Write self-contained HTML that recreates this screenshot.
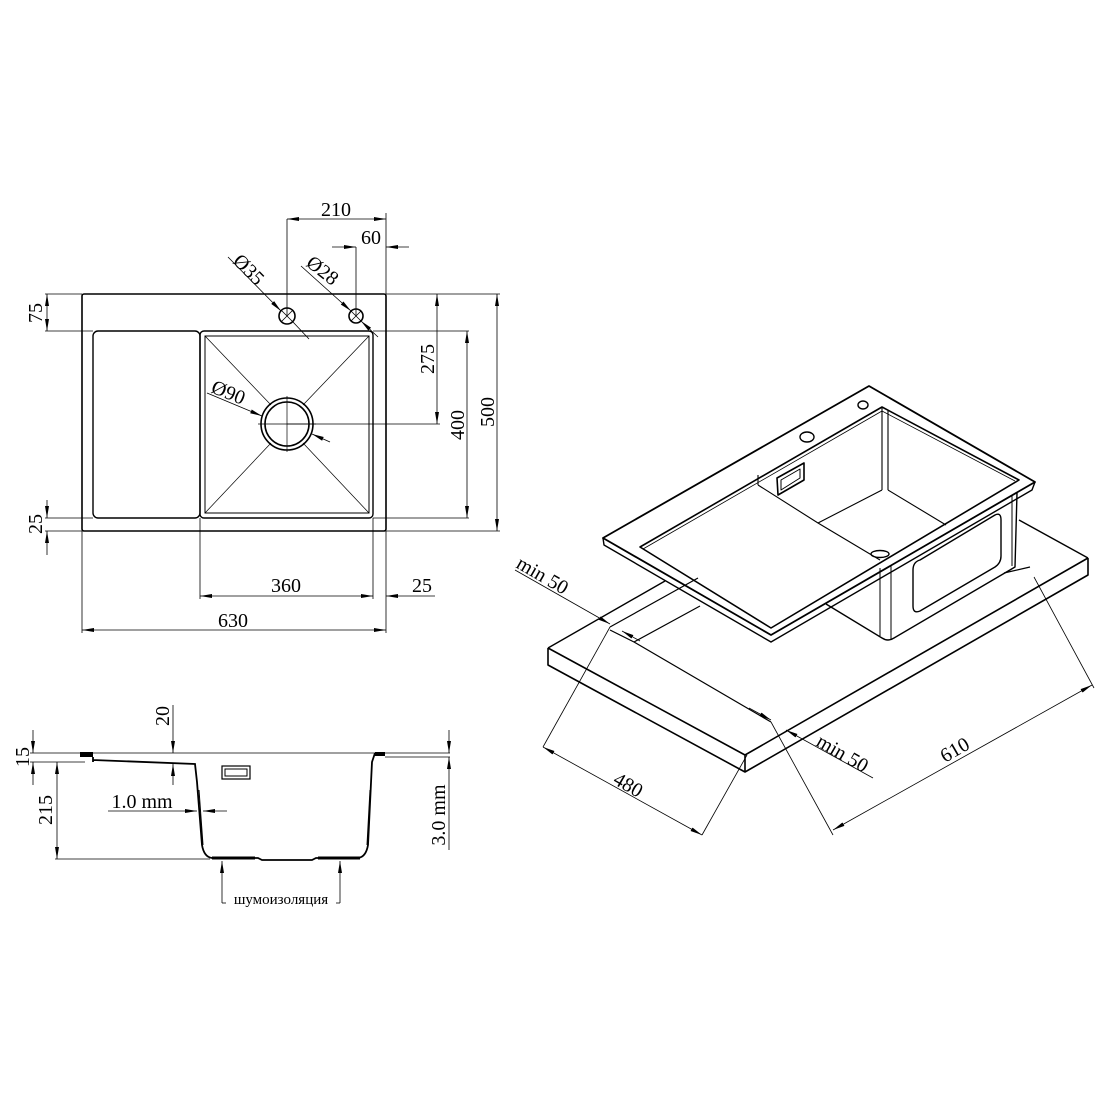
<!DOCTYPE html>
<html><head><meta charset="utf-8"><style>
html,body{margin:0;padding:0;background:#fff}
svg{display:block}
text{font-family:"Liberation Serif",serif;font-size:20px;fill:#000}
</style></head><body>
<svg width="1110" height="1110" viewBox="0 0 1110 1110" xmlns="http://www.w3.org/2000/svg">
<defs>
<marker id="a" markerWidth="12" markerHeight="6" refX="12" refY="3" orient="auto-start-reverse" markerUnits="userSpaceOnUse"><path d="M0,1 L12,3 L0,5 z" fill="#000"/></marker>
</defs>
<g fill="none" stroke="#000">
<rect x="82" y="294" width="304" height="237" rx="2" stroke-width="1.6"/>
<rect x="93" y="331" width="107" height="187" rx="5" stroke-width="1.4"/>
<rect x="200" y="331" width="173" height="187" rx="4" stroke-width="1.4"/>
<rect x="205" y="336" width="164" height="177" stroke-width="1"/>
<circle cx="287" cy="424" r="26" stroke-width="1.6"/>
<circle cx="287" cy="424" r="22" stroke-width="1.6"/>
<g stroke-width="0.7">
<line x1="205" y1="336" x2="271" y2="405"/><line x1="369" y1="336" x2="303" y2="405"/>
<line x1="205" y1="513" x2="271" y2="443"/><line x1="369" y1="513" x2="303" y2="443"/>
<line x1="258" y1="424" x2="316" y2="424"/><line x1="287" y1="396" x2="287" y2="452"/>
</g>
<circle cx="287" cy="316" r="8" stroke-width="1.6"/>
<circle cx="356" cy="316" r="7" stroke-width="1.6"/>
<g stroke-width="0.8">
<line x1="281" y1="310" x2="293" y2="322"/><line x1="281" y1="322" x2="293" y2="310"/>
<line x1="351" y1="311" x2="361" y2="321"/><line x1="351" y1="321" x2="361" y2="311"/>
<line x1="287" y1="219" x2="287" y2="316"/>
<line x1="356" y1="247" x2="356" y2="316"/>
<line x1="386" y1="213" x2="386" y2="294"/>
<line x1="386" y1="294" x2="500" y2="294"/>
<line x1="45" y1="294" x2="82" y2="294"/>
<line x1="45" y1="331" x2="93" y2="331"/>
<line x1="373" y1="331" x2="469" y2="331"/>
<line x1="287" y1="424" x2="440" y2="424"/>
<line x1="373" y1="518" x2="469" y2="518"/>
<line x1="45" y1="518" x2="93" y2="518"/>
<line x1="45" y1="531" x2="82" y2="531"/>
<line x1="386" y1="531" x2="500" y2="531"/>
<line x1="82" y1="531" x2="82" y2="633"/>
<line x1="386" y1="531" x2="386" y2="633"/>
<line x1="200" y1="518" x2="200" y2="599"/>
<line x1="373" y1="518" x2="373" y2="599"/>
<line x1="287" y1="219" x2="386" y2="219" marker-start="url(#a)" marker-end="url(#a)"/>
<line x1="332" y1="247" x2="356" y2="247" marker-end="url(#a)"/>
<line x1="409" y1="247" x2="386" y2="247" marker-end="url(#a)"/>
<line x1="47" y1="294" x2="47" y2="331" marker-start="url(#a)" marker-end="url(#a)"/>
<line x1="47" y1="500" x2="47" y2="518" marker-end="url(#a)"/>
<line x1="47" y1="555" x2="47" y2="531" marker-end="url(#a)"/>
<line x1="437" y1="294" x2="437" y2="424" marker-start="url(#a)" marker-end="url(#a)"/>
<line x1="467" y1="331" x2="467" y2="518" marker-start="url(#a)" marker-end="url(#a)"/>
<line x1="497" y1="294" x2="497" y2="531" marker-start="url(#a)" marker-end="url(#a)"/>
<line x1="200" y1="596" x2="373" y2="596" marker-start="url(#a)" marker-end="url(#a)"/>
<line x1="435" y1="596" x2="386" y2="596" marker-end="url(#a)"/>
<line x1="82" y1="630" x2="386" y2="630" marker-start="url(#a)" marker-end="url(#a)"/>
<line x1="228" y1="257" x2="281" y2="311" marker-end="url(#a)"/>
<line x1="309" y1="339" x2="293" y2="322" />
<line x1="301" y1="266" x2="351" y2="311" marker-end="url(#a)"/>
<line x1="378" y1="337" x2="361" y2="321" marker-end="url(#a)"/>
<line x1="207" y1="393" x2="262" y2="416" marker-end="url(#a)"/>
<line x1="330" y1="442" x2="312" y2="434" marker-end="url(#a)"/>
</g>
</g>
<g>
<text x="336" y="216" text-anchor="middle">210</text>
<text x="371" y="244" text-anchor="middle">60</text>
<text transform="translate(232,262) rotate(45)">Ø35</text>
<text transform="translate(305,265) rotate(38)">Ø28</text>
<text transform="translate(210,392) rotate(22)">Ø90</text>
<text transform="translate(42,313) rotate(-90)" text-anchor="middle">75</text>
<text transform="translate(42,524) rotate(-90)" text-anchor="middle">25</text>
<text transform="translate(434,359) rotate(-90)" text-anchor="middle">275</text>
<text transform="translate(464,425) rotate(-90)" text-anchor="middle">400</text>
<text transform="translate(494,412) rotate(-90)" text-anchor="middle">500</text>
<text x="286" y="592" text-anchor="middle">360</text>
<text x="422" y="592" text-anchor="middle">25</text>
<text x="233" y="627" text-anchor="middle">630</text>
</g>

<g fill="none" stroke="#000">
<g stroke-width="0.8">
<line x1="30" y1="753" x2="450" y2="753"/>
<line x1="30" y1="762" x2="85" y2="762"/>
<line x1="55" y1="859" x2="210" y2="859"/>
<line x1="33" y1="730" x2="33" y2="753" marker-end="url(#a)"/>
<line x1="33" y1="785" x2="33" y2="762" marker-end="url(#a)"/>
<line x1="57" y1="762" x2="57" y2="859" marker-start="url(#a)" marker-end="url(#a)"/>
<line x1="173" y1="705" x2="173" y2="753" marker-end="url(#a)"/>
<line x1="173" y1="785" x2="173" y2="764" marker-end="url(#a)"/>
<line x1="108" y1="811" x2="197" y2="811" marker-end="url(#a)"/>
<line x1="227" y1="811" x2="203" y2="811" marker-end="url(#a)"/>
<line x1="449" y1="730" x2="449" y2="753" marker-end="url(#a)"/>
<line x1="449" y1="850" x2="449" y2="757" marker-end="url(#a)"/>
<line x1="385" y1="757" x2="450" y2="757"/>
<line x1="222" y1="903" x2="222" y2="861" marker-end="url(#a)"/>
<line x1="340" y1="903" x2="340" y2="861" marker-end="url(#a)"/>
<line x1="222" y1="903" x2="226" y2="903"/><line x1="336" y1="903" x2="340" y2="903"/>
</g>
<rect x="80" y="752" width="13" height="5" fill="#000" stroke="none"/>
<path d="M93,757 L93,762 M93,760 L195,764 L197,782 L202,845 Q204,857 212,858 L258,858 L262,860 L312,860 L316,858 L358,858 Q366,857 368,845 L372,762 L375,753" stroke-width="1.8"/>
<path d="M199,790 L203,845 M370,790 L367,845" stroke-width="1"/>
<rect x="375" y="752" width="10" height="4" fill="#000" stroke="none"/>
<line x1="212" y1="858" x2="255" y2="858" stroke-width="3"/>
<line x1="318" y1="858" x2="360" y2="858" stroke-width="3"/>
<rect x="222" y="766" width="28" height="13" stroke-width="1.2"/>
<rect x="225" y="769" width="22" height="7" stroke-width="1"/>
</g>
<g>
<text transform="translate(29,757) rotate(-90)" text-anchor="middle">15</text>
<text transform="translate(52,810) rotate(-90)" text-anchor="middle">215</text>
<text transform="translate(169,716) rotate(-90)" text-anchor="middle">20</text>
<text x="142" y="808" text-anchor="middle">1.0 mm</text>
<text transform="translate(445,815) rotate(-90)" text-anchor="middle">3.0 mm</text>
<text x="281" y="904" text-anchor="middle" style="font-size:15px">шумоизоляция</text>
</g>

<g fill="none" stroke="#000" stroke-linejoin="round">
<path d="M548,648 L745,755 L1088,558 M548,648 L548,665 L745,772 L1088,575 L1088,558 M745,755 L745,772" stroke-width="1.6"/>
<path d="M548,648 L665,581 M1088,558 L1019,520" stroke-width="1.4"/>
<path d="M610,627 L698,578 M610,630 L634,642 L700,606 M634,642 L771,722 M1004,573 L1030,567" stroke-width="1.2"/>
<path d="M826,604 L882,638 Q888,642 894,638 L1015,567 L1017,493" stroke-width="1.4"/>
<path d="M880,568 L880,636 M891,565 L891,640 M1012,496 L1012,566" stroke-width="1"/>
<path d="M920,560 Q913,562 913,570 L913,606 Q913,614 920,611 L995,567 Q1001,563 1001,556 L1001,520 Q1001,512 995,515 Z" stroke-width="1.4"/>
<path d="M603,538 L869,386 L1035,482 L771,635 Z" stroke-width="1.8"/>
<path d="M603,538 L604,545 L771,642 L1032,490 L1035,482" stroke-width="1.4"/>
<path d="M640,547 L882,407 L1019,480 L771,628 Z" stroke-width="1.6"/>
<path d="M643,549 L882,411 L1015,481" stroke-width="0.8"/>
<path d="M882,407 L882,490 M888,410 L888,490 M882,490 L818,523 M888,490 L946,525 M758,485 L818,523 L880,560 M758,485 L758,475" stroke-width="1.1"/>
<ellipse cx="880" cy="554" rx="9" ry="3.5" stroke-width="1.4"/>
<path d="M777,478 L804,463 L804,480 L778,495 Z" stroke-width="1.6"/>
<path d="M781,480 L800,469 L800,478 L781,490 Z" stroke-width="1"/>
<ellipse cx="807" cy="437" rx="7" ry="5" stroke-width="1.4"/>
<ellipse cx="863" cy="405" rx="5" ry="4" stroke-width="1.4"/>
<g stroke-width="0.8">
<line x1="543" y1="747" x2="702" y2="835" marker-start="url(#a)" marker-end="url(#a)"/>
<line x1="543" y1="747" x2="610" y2="627"/>
<line x1="702" y1="835" x2="747" y2="755"/>
<line x1="515" y1="570" x2="610" y2="624" marker-end="url(#a)"/>
<line x1="640" y1="641" x2="622" y2="631" marker-end="url(#a)"/>
<line x1="749" y1="708" x2="771" y2="720" marker-end="url(#a)"/>
<line x1="873" y1="778" x2="786" y2="730" marker-end="url(#a)"/>
<line x1="771" y1="722" x2="833" y2="835"/>
<line x1="1034" y1="577" x2="1094" y2="688"/>
<line x1="833" y1="830" x2="1092" y2="685" marker-start="url(#a)" marker-end="url(#a)"/>
</g>
</g>
<g>
<text transform="translate(515,567) rotate(30)">min 50</text>
<text transform="translate(815,745) rotate(30)">min 50</text>
<text transform="translate(612,783) rotate(30)">480</text>
<text transform="translate(945,763) rotate(-30)">610</text>
</g>
</svg>
</body></html>
